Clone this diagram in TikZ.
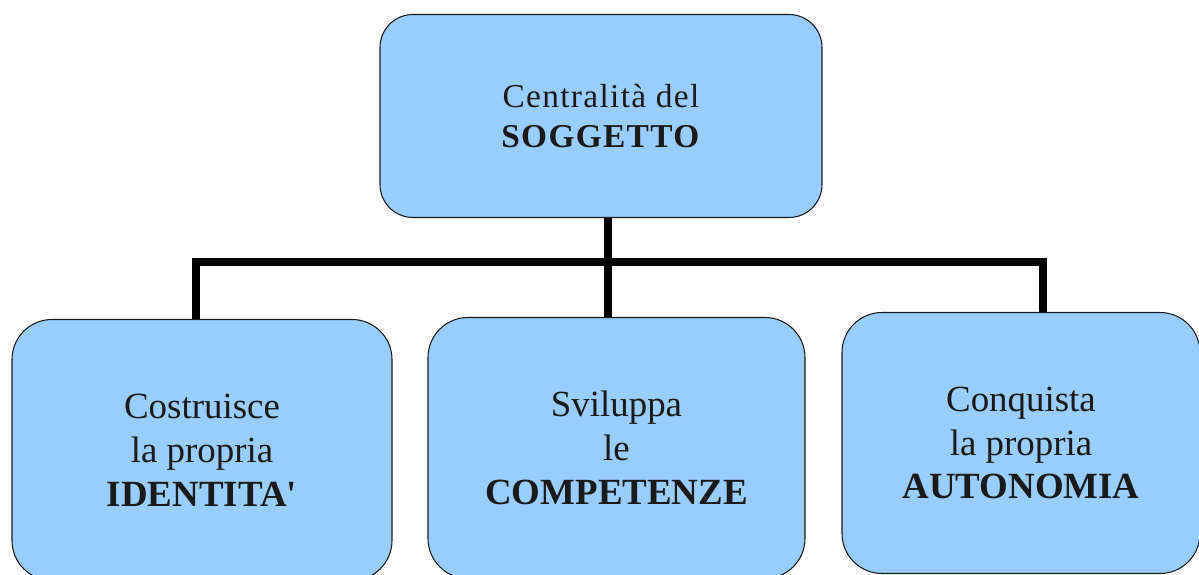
\documentclass[tikz,border=0pt]{standalone}
\usepackage{fontspec}
\setmainfont{Liberation Serif}
\newfontfamily\spacedfont[LetterSpace=4]{Liberation Serif}
\usetikzlibrary{positioning}

\definecolor{boxblue}{HTML}{99CCFF}
\definecolor{inkgray}{HTML}{1A1A1A}

\begin{document}
\begin{tikzpicture}[
  box/.style={rectangle,draw=inkgray,line width=0.6pt,fill=boxblue,text=inkgray,align=center,inner sep=0pt},
  topbox/.style={box,rounded corners=0.66cm,minimum width=8.84cm,minimum height=4.06cm,font=\spacedfont\fontsize{19}{22.7}\selectfont},
  subbox/.style={box,rounded corners=0.8cm,minimum height=5.22cm,font=\fontsize{21}{25}\selectfont},
  conn/.style={line width=0.16cm,black}]
\clip (0,0) rectangle (23.98,-11.5);
\fill[white] (0,0) rectangle (23.98,-11.5);

\node[topbox] (soggetto) at (12.02,-2.32) {Centralità del\\\textbf{SOGGETTO}};

\node[subbox,minimum width=7.6cm] (identita) at (4.04,-9.0) {Costruisce\\la propria\\\textbf{IDENTITA\textquotesingle}};
\node[subbox,minimum width=7.54cm] (competenze) at (12.33,-8.96) {Sviluppa\\le\\\textbf{COMPETENZE}};
\node[subbox,minimum width=7.16cm] (autonomia) at (20.42,-8.86) {Conquista\\la propria\\\textbf{AUTONOMIA}};

\coordinate (jL) at (3.92,-5.24);
\coordinate (jM) at (12.16,-5.24);
\coordinate (jR) at (20.86,-5.24);

\draw[conn] (jM |- soggetto.south) -- (jM);
\draw[conn] (jL |- identita.north) -- (jL) -- (jR) -- (jR |- autonomia.north);
\draw[conn] (jM) -- (jM |- competenze.north);

\end{tikzpicture}
\end{document}
